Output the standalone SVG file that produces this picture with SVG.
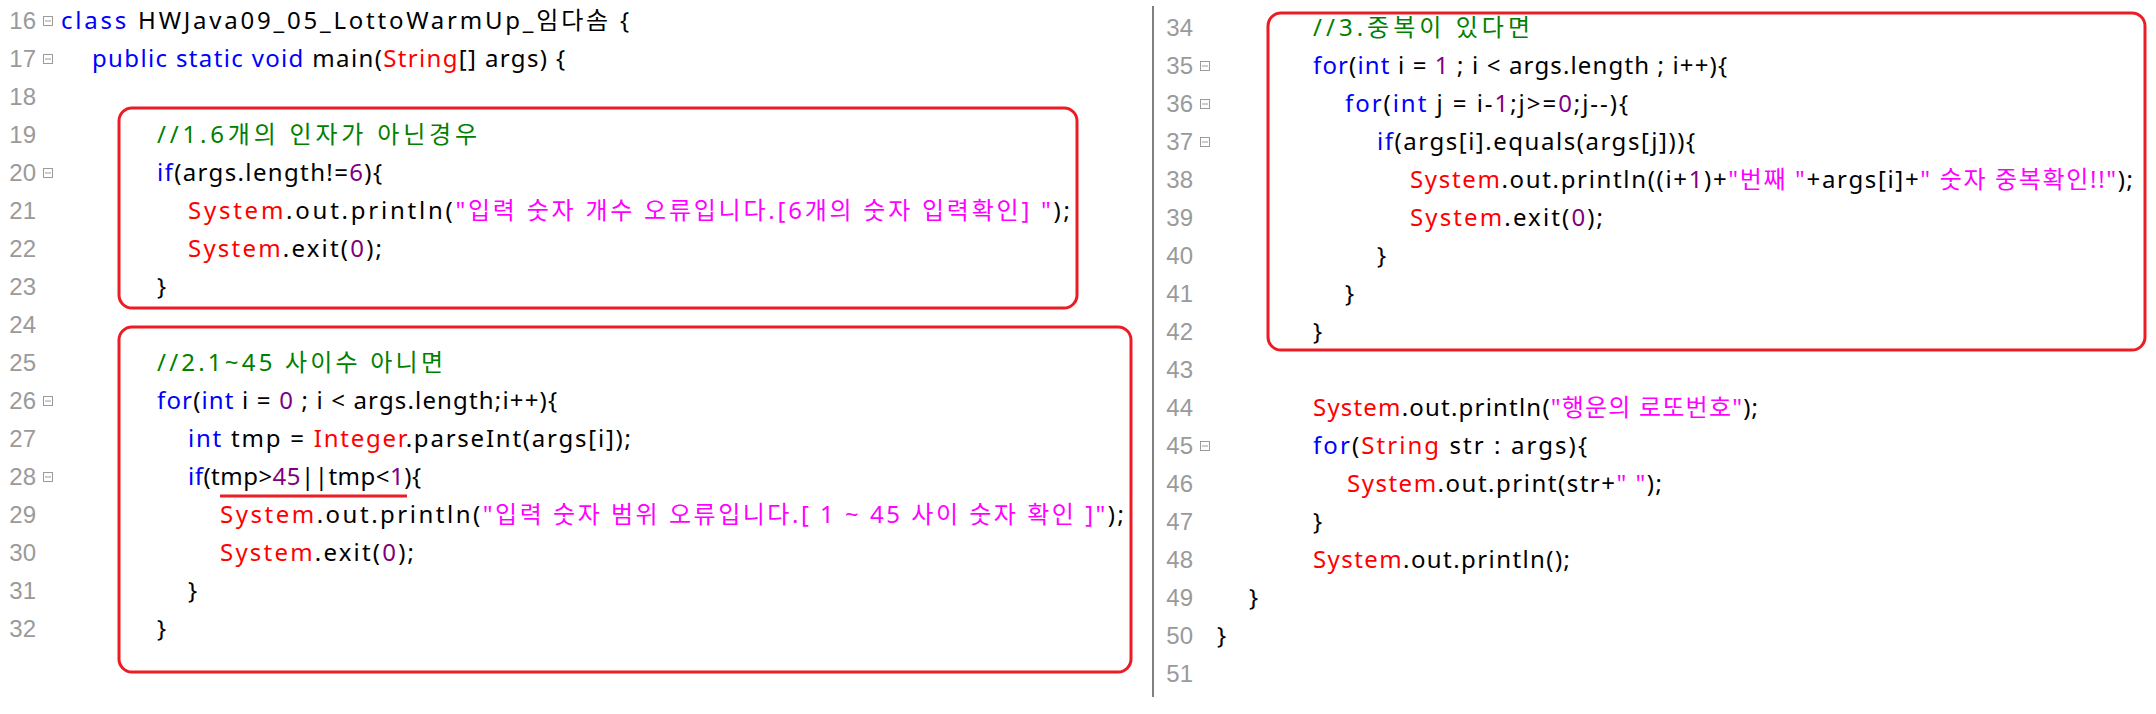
<svg xmlns="http://www.w3.org/2000/svg" width="2156" height="714" viewBox="0 0 2156 714">
<style>
.code{font-family:"Noto Sans","Noto Sans CJK KR",sans-serif;font-size:24px;fill:#000}
.ln{font-family:"Liberation Sans",Arial,sans-serif;font-size:24px;fill:#9a9a9a;text-anchor:end}
.k{fill:#0000ff}.c{fill:#ff0000}.s{fill:#ff00ff}.n{fill:#800080}.g{fill:#008000}
.box{fill:none;stroke:#ed1c24;stroke-width:3}
.fold{fill:none;stroke:#9a9a9a;stroke-width:1}
</style>
<defs>
<g id="fm"><rect class="fold" x="0.5" y="0.5" width="9" height="9"/><line class="fold" x1="2" y1="5" x2="8" y2="5"/></g>
</defs>
<rect width="2156" height="714" fill="#fff"/>
<line x1="1153" y1="6" x2="1153" y2="697" stroke="#808080" stroke-width="2"/>

<g id="line-numbers">
<text class="ln" x="36" y="29">16</text>
<text class="ln" x="36" y="67">17</text>
<text class="ln" x="36" y="105">18</text>
<text class="ln" x="36" y="143">19</text>
<text class="ln" x="36" y="181">20</text>
<text class="ln" x="36" y="219">21</text>
<text class="ln" x="36" y="257">22</text>
<text class="ln" x="36" y="295">23</text>
<text class="ln" x="36" y="333">24</text>
<text class="ln" x="36" y="371">25</text>
<text class="ln" x="36" y="409">26</text>
<text class="ln" x="36" y="447">27</text>
<text class="ln" x="36" y="485">28</text>
<text class="ln" x="36" y="523">29</text>
<text class="ln" x="36" y="561">30</text>
<text class="ln" x="36" y="599">31</text>
<text class="ln" x="36" y="637">32</text>
<text class="ln" x="1193" y="36">34</text>
<text class="ln" x="1193" y="74">35</text>
<text class="ln" x="1193" y="112">36</text>
<text class="ln" x="1193" y="150">37</text>
<text class="ln" x="1193" y="188">38</text>
<text class="ln" x="1193" y="226">39</text>
<text class="ln" x="1193" y="264">40</text>
<text class="ln" x="1193" y="302">41</text>
<text class="ln" x="1193" y="340">42</text>
<text class="ln" x="1193" y="378">43</text>
<text class="ln" x="1193" y="416">44</text>
<text class="ln" x="1193" y="454">45</text>
<text class="ln" x="1193" y="492">46</text>
<text class="ln" x="1193" y="530">47</text>
<text class="ln" x="1193" y="568">48</text>
<text class="ln" x="1193" y="606">49</text>
<text class="ln" x="1193" y="644">50</text>
<text class="ln" x="1193" y="682">51</text>
</g>

<g id="fold-markers">
<use href="#fm" x="43" y="16"/>
<use href="#fm" x="43" y="54"/>
<use href="#fm" x="43" y="168"/>
<use href="#fm" x="43" y="396"/>
<use href="#fm" x="43" y="472"/>
<use href="#fm" x="1200" y="61"/>
<use href="#fm" x="1200" y="99"/>
<use href="#fm" x="1200" y="137"/>
<use href="#fm" x="1200" y="441"/>
</g>

<g id="box1"><rect class="box" x="119" y="108" width="958" height="200" rx="13"/></g>
<g id="box2"><rect class="box" x="119" y="327" width="1012" height="345" rx="13"/></g>
<g id="box3"><rect class="box" x="1268" y="13" width="877" height="337" rx="13"/></g>
<g id="underline"><line x1="220" y1="496" x2="407" y2="496" stroke="#ed1c24" stroke-width="3"/></g>

<g id="code-left">
<text class="code" x="61" y="29" textLength="568" lengthAdjust="spacing"><tspan class="k">class</tspan> HWJava09_05_LottoWarmUp_임다솜 {</text>
<text class="code" x="92" y="67" textLength="473" lengthAdjust="spacing"><tspan class="k">public static void</tspan> main(<tspan class="c">String</tspan>[] args) {</text>
<text class="code g" x="157" y="143" textLength="320" lengthAdjust="spacing">//1.6개의 인자가 아닌경우</text>
<text class="code" x="157" y="181" textLength="225" lengthAdjust="spacing"><tspan class="k">if</tspan>(args.length!=<tspan class="n">6</tspan>){</text>
<text class="code" x="188" y="219" textLength="882" lengthAdjust="spacing"><tspan class="c">System</tspan>.out.println(<tspan class="s">"입력 숫자 개수 오류입니다.[6개의 숫자 입력확인] "</tspan>);</text>
<text class="code" x="188" y="257" textLength="194" lengthAdjust="spacing"><tspan class="c">System</tspan>.exit(<tspan class="n">0</tspan>);</text>
<text class="code" x="157" y="295">}</text>
<text class="code g" x="157" y="371" textLength="286" lengthAdjust="spacing">//2.1~45 사이수 아니면</text>
<text class="code" x="157" y="409" textLength="400" lengthAdjust="spacing"><tspan class="k">for</tspan>(<tspan class="k">int</tspan> i = <tspan class="n">0</tspan> ; i &lt; args.length;i++){</text>
<text class="code" x="188" y="447" textLength="443" lengthAdjust="spacing"><tspan class="k">int</tspan> tmp = <tspan class="c">Integer</tspan>.parseInt(args[i]);</text>
<text class="code" x="188" y="485" textLength="233" lengthAdjust="spacing"><tspan class="k">if</tspan>(tmp&gt;<tspan class="n">45</tspan>||tmp&lt;<tspan class="n">1</tspan>){</text>
<text class="code" x="220" y="523" textLength="904" lengthAdjust="spacing"><tspan class="c">System</tspan>.out.println(<tspan class="s">"입력 숫자 범위 오류입니다.[ 1 ~ 45 사이 숫자 확인 ]"</tspan>);</text>
<text class="code" x="220" y="561" textLength="194" lengthAdjust="spacing"><tspan class="c">System</tspan>.exit(<tspan class="n">0</tspan>);</text>
<text class="code" x="188" y="599">}</text>
<text class="code" x="157" y="637">}</text>
</g>

<g id="code-right">
<text class="code g" x="1313" y="36" textLength="217" lengthAdjust="spacing">//3.중복이 있다면</text>
<text class="code" x="1313" y="74" textLength="414" lengthAdjust="spacing"><tspan class="k">for</tspan>(<tspan class="k">int</tspan> i = <tspan class="n">1</tspan> ; i &lt; args.length ; i++){</text>
<text class="code" x="1345" y="112" textLength="283" lengthAdjust="spacing"><tspan class="k">for</tspan>(<tspan class="k">int</tspan> j = i-<tspan class="n">1</tspan>;j&gt;=<tspan class="n">0</tspan>;j--){</text>
<text class="code" x="1377" y="150" textLength="318" lengthAdjust="spacing"><tspan class="k">if</tspan>(args[i].equals(args[j])){</text>
<text class="code" x="1410" y="188" textLength="723" lengthAdjust="spacing"><tspan class="c">System</tspan>.out.println((i+<tspan class="n">1</tspan>)+<tspan class="s">"번째 "</tspan>+args[i]+<tspan class="s">" 숫자 중복확인!!"</tspan>);</text>
<text class="code" x="1410" y="226" textLength="193" lengthAdjust="spacing"><tspan class="c">System</tspan>.exit(<tspan class="n">0</tspan>);</text>
<text class="code" x="1377" y="264">}</text>
<text class="code" x="1345" y="302">}</text>
<text class="code" x="1313" y="340">}</text>
<text class="code" x="1313" y="416" textLength="445" lengthAdjust="spacing"><tspan class="c">System</tspan>.out.println(<tspan class="s">"행운의 로또번호"</tspan>);</text>
<text class="code" x="1313" y="454" textLength="274" lengthAdjust="spacing"><tspan class="k">for</tspan>(<tspan class="c">String</tspan> str : args){</text>
<text class="code" x="1347" y="492" textLength="315" lengthAdjust="spacing"><tspan class="c">System</tspan>.out.print(str+<tspan class="s">" "</tspan>);</text>
<text class="code" x="1313" y="530">}</text>
<text class="code" x="1313" y="568" textLength="257" lengthAdjust="spacing"><tspan class="c">System</tspan>.out.println();</text>
<text class="code" x="1249" y="606">}</text>
<text class="code" x="1217" y="644">}</text>
</g>
</svg>
